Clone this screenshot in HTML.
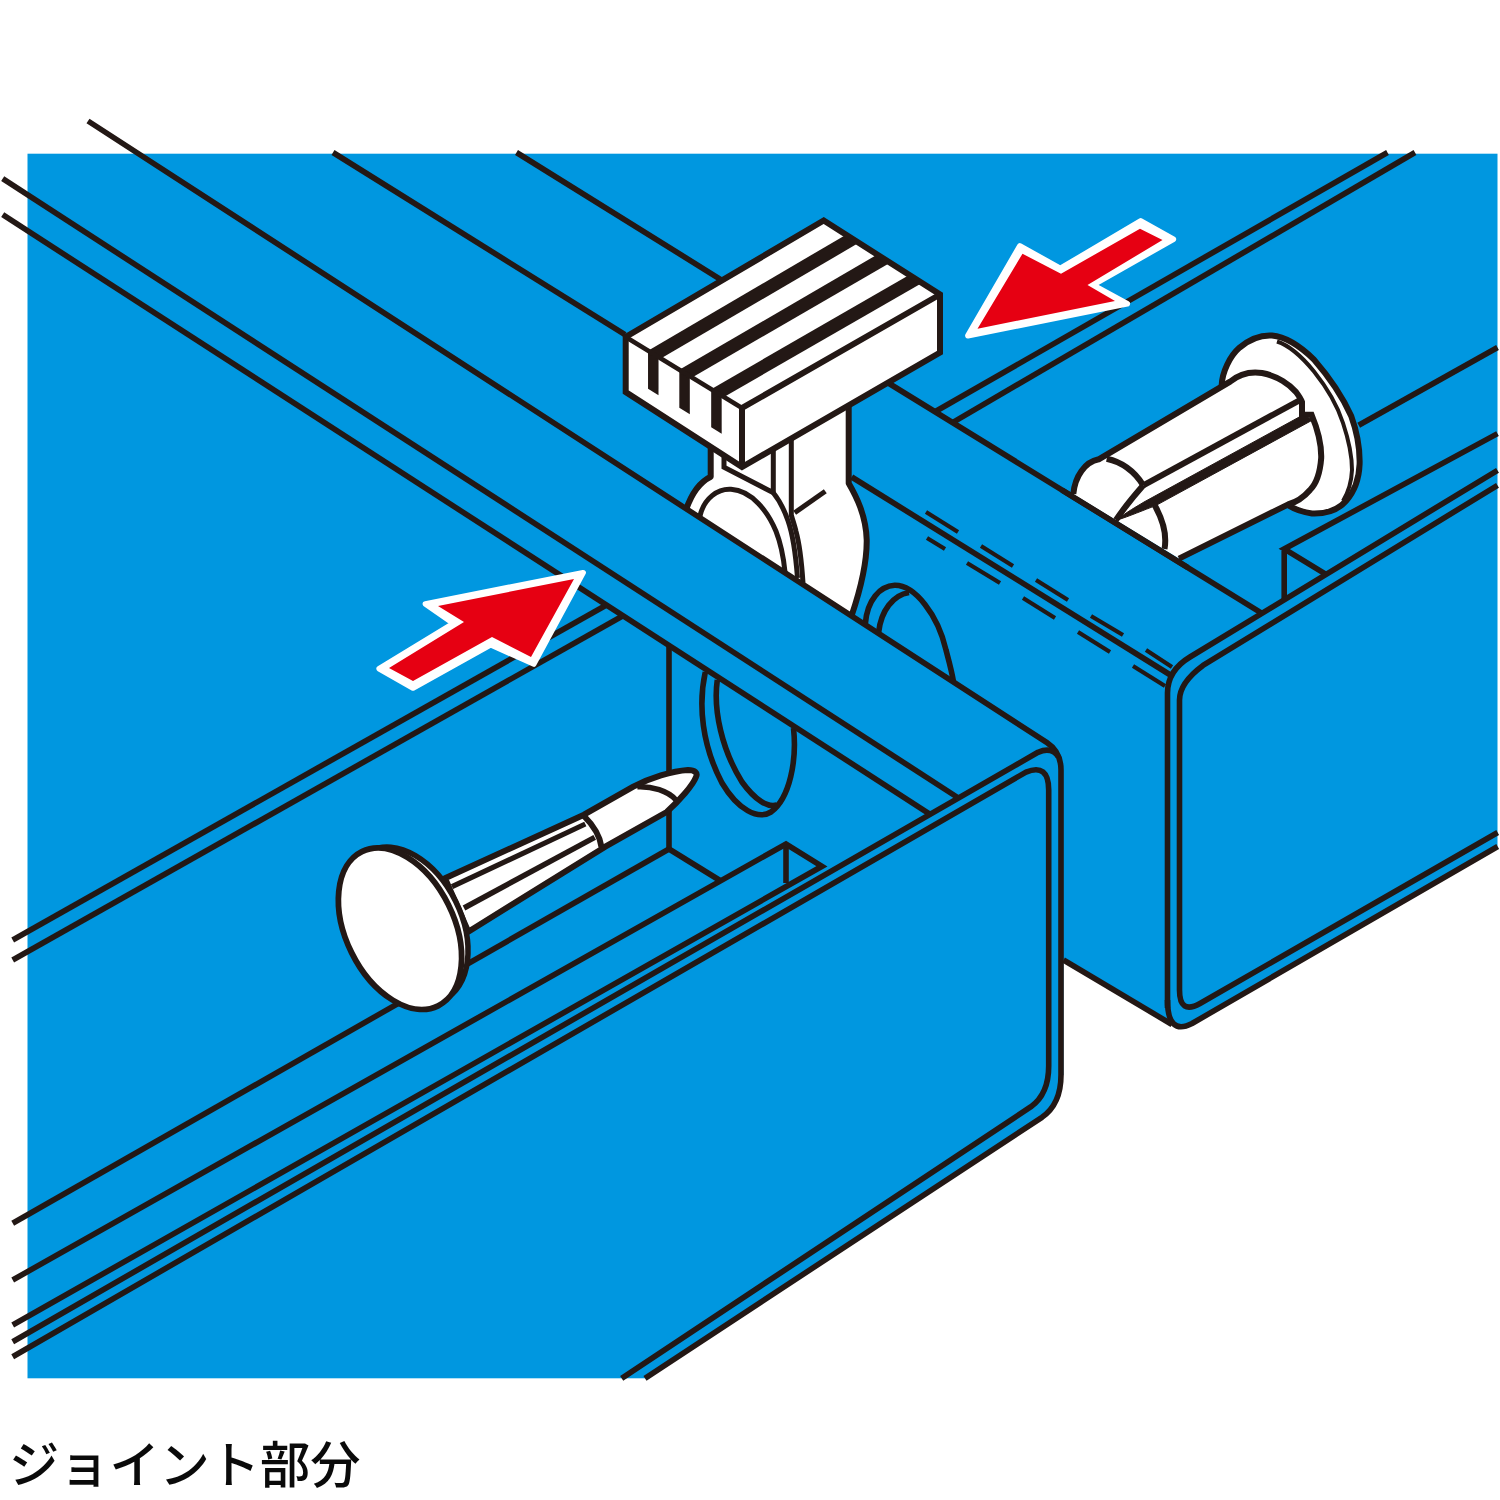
<!DOCTYPE html>
<html lang="ja">
<head>
<meta charset="utf-8">
<title>ジョイント部分</title>
<style>
html,body{margin:0;padding:0;background:#fff;}
body{width:1500px;height:1500px;position:relative;overflow:hidden;font-family:"Liberation Sans","Noto Sans CJK JP",sans-serif;}
svg{position:absolute;left:0;top:0;display:block;}
.cap{position:absolute;left:9px;top:1429.5px;font-size:50.2px;line-height:72px;color:#0a0a0a;font-weight:500;letter-spacing:0;white-space:nowrap;}
</style>
</head>
<body>
<svg width="1500" height="1500" viewBox="0 0 1500 1500">
<rect x="27.5" y="153.7" width="1470" height="1224.6" fill="#0097e0"/>
<path d="M645,1380 L645,1378.3 L1042,1117.3 Q1061,1104 1061,1075 L1063.5,1075 L1063.5,960 L1150,1011 L1168,1022 Q1178,1031 1192,1023.5 L1497.7,846.5 L1500,845 L1500,1380 Z" fill="#fff" stroke="none" stroke-width="0" stroke-linejoin="round" stroke-linecap="butt" />
<line x1="333" y1="152.5" x2="625" y2="334.7" stroke="#231815" stroke-width="5.6" stroke-linecap="butt"/>
<line x1="516.5" y1="152.5" x2="722" y2="280.3" stroke="#231815" stroke-width="5.6" stroke-linecap="butt"/>
<line x1="935" y1="411.77425" x2="1387.5" y2="152.5" stroke="#231815" stroke-width="5.6" stroke-linecap="butt"/>
<line x1="952.5" y1="422.5595" x2="1415" y2="152.5" stroke="#231815" stroke-width="5.6" stroke-linecap="butt"/>
<line x1="887.5" y1="382.5" x2="1262" y2="613.2629000000001" stroke="#231815" stroke-width="5.6" stroke-linecap="butt"/>
<line x1="1358.7" y1="425.3" x2="1497.5" y2="347.5" stroke="#231815" stroke-width="5.6" stroke-linecap="butt"/>
<path d="M1497.5,433.6 L1284.2,549 L1326,574.4" fill="none" stroke="#231815" stroke-width="5.6" stroke-linejoin="miter" stroke-linecap="butt" />
<line x1="1284.2" y1="551" x2="1284.2" y2="599.7875" stroke="#231815" stroke-width="5.6" stroke-linecap="butt"/>
<path d="M865.3,624 C867,600 880,586 894.7,585.3 C915,585 938,615 946,650 C950,665 952,672 953.5,682" fill="none" stroke="#231815" stroke-width="5.6" stroke-linejoin="round" stroke-linecap="butt" />
<path d="M878.7,632 C881,611 893,595 909,592.5" fill="none" stroke="#231815" stroke-width="5.6" stroke-linejoin="round" stroke-linecap="butt" />
<path d="M851.7,477 L1172,676" fill="none" stroke="#231815" stroke-width="5.6" stroke-linejoin="round" stroke-linecap="butt" />
<path d="M1167.5,1008 L1167.5,693 Q1167.5,670.5 1190,657.0 L1497.5,470.3" fill="none" stroke="#231815" stroke-width="5.6" stroke-linejoin="round" stroke-linecap="butt" />
<path d="M1167.5,1000 Q1167.5,1036 1192,1023.5 L1497.7,846.5" fill="none" stroke="#231815" stroke-width="5.6" stroke-linejoin="round" stroke-linecap="butt" />
<path d="M1497.5,485.3 L1203,665.4 Q1179.5,682.8 1179.5,700 L1179.5,990 Q1179.5,1015 1200,1003.5 L1497.7,832.5" fill="none" stroke="#231815" stroke-width="5.6" stroke-linejoin="round" stroke-linecap="butt" />
<line x1="1063.5" y1="960" x2="1172" y2="1024.5" stroke="#231815" stroke-width="5.6" stroke-linecap="butt"/>
<line x1="926" y1="512" x2="958" y2="532" stroke="#231815" stroke-width="4.2" stroke-linecap="butt"/>
<line x1="981" y1="546" x2="1013" y2="566" stroke="#231815" stroke-width="4.2" stroke-linecap="butt"/>
<line x1="1036" y1="580" x2="1068" y2="600" stroke="#231815" stroke-width="4.2" stroke-linecap="butt"/>
<line x1="1091" y1="616" x2="1123" y2="635" stroke="#231815" stroke-width="4.2" stroke-linecap="butt"/>
<line x1="1146" y1="650" x2="1172" y2="667" stroke="#231815" stroke-width="4.2" stroke-linecap="butt"/>
<line x1="927" y1="538" x2="945" y2="549" stroke="#231815" stroke-width="4.2" stroke-linecap="butt"/>
<line x1="967" y1="563" x2="1000" y2="583" stroke="#231815" stroke-width="4.2" stroke-linecap="butt"/>
<line x1="1023" y1="598" x2="1055" y2="618" stroke="#231815" stroke-width="4.2" stroke-linecap="butt"/>
<line x1="1078" y1="632" x2="1110" y2="652" stroke="#231815" stroke-width="4.2" stroke-linecap="butt"/>
<line x1="1133" y1="666" x2="1165" y2="686" stroke="#231815" stroke-width="4.2" stroke-linecap="butt"/>
<path d="M710.7,440 L710.7,476.7 C700,482 692,492 686,510 L851.5,616 C861,588 867,562 866.7,540 C866,515 856,496 848.7,483.3 L848.7,400 Z" fill="#fff" stroke="none" stroke-width="0" stroke-linejoin="round" stroke-linecap="butt" />
<path d="M710.7,440 L710.7,476.7 C700,482 692,492 686,510" fill="none" stroke="#231815" stroke-width="6.0" stroke-linejoin="round" stroke-linecap="butt" />
<path d="M851.5,616 C861,588 867,562 866.7,540 C866,515 856,496 848.7,483.3 L848.7,400" fill="none" stroke="#231815" stroke-width="6.0" stroke-linejoin="round" stroke-linecap="butt" />
<path d="M700,516 C704,498 718,488.5 731,489.3 C752,490.5 768,512 776,531.3 C781,544 783.5,557 785,572" fill="none" stroke="#231815" stroke-width="5.0" stroke-linejoin="round" stroke-linecap="butt" />
<path d="M724,452 L724,467.3 L773.3,492.7 L773.3,445" fill="none" stroke="#231815" stroke-width="5.0" stroke-linejoin="miter" stroke-linecap="butt" />
<path d="M773.3,492.7 C780,501 785,512 788,520.7 C792,532 795,545 797.5,578" fill="none" stroke="#231815" stroke-width="5.0" stroke-linejoin="round" stroke-linecap="butt" />
<path d="M791.3,436 L791.3,515.3 C794,524 795,527 796,531.3 C799,542 801,552 803,583" fill="none" stroke="#231815" stroke-width="5.0" stroke-linejoin="round" stroke-linecap="butt" />
<line x1="794.7" y1="512.7" x2="825.3" y2="491.3" stroke="#231815" stroke-width="5.0" stroke-linecap="butt"/>
<polygon points="625.7,337 742,408 742,467 625.7,392" fill="#fff" stroke="none" stroke-width="0" stroke-linejoin="miter"/>
<polygon points="742,408 940,294.5 940,352.5 742,467" fill="#fff" stroke="none" stroke-width="0" stroke-linejoin="miter"/>
<polygon points="823.75,220.5 940,294.5 742,408 625.7,337" fill="#fff" stroke="none" stroke-width="0" stroke-linejoin="miter"/>
<polygon points="648.0296000000001,350.632 660.8226000000001,358.442 858.8575,242.848 846.07,234.708" fill="#231815" stroke="none" stroke-width="0" stroke-linejoin="miter"/>
<polygon points="648.0296000000001,350.632 658.5296000000001,354.632 658.5296000000001,395.132 648.0296000000001,388.632" fill="#231815" stroke="none" stroke-width="0" stroke-linejoin="miter"/>
<polygon points="679.3143,369.731 692.1073,377.541 890.12875,262.754 877.34125,254.614" fill="#231815" stroke="none" stroke-width="0" stroke-linejoin="miter"/>
<polygon points="679.3143,369.731 689.8143,373.731 689.8143,414.231 679.3143,407.731" fill="#231815" stroke="none" stroke-width="0" stroke-linejoin="miter"/>
<polygon points="711.1805,389.185 723.9735000000001,396.995 921.98125,283.03 909.19375,274.89" fill="#231815" stroke="none" stroke-width="0" stroke-linejoin="miter"/>
<polygon points="711.1805,389.185 721.6805,393.185 721.6805,433.685 711.1805,427.185" fill="#231815" stroke="none" stroke-width="0" stroke-linejoin="miter"/>
<path d="M625.7,337 L742,408" fill="none" stroke="#231815" stroke-width="4.5" stroke-linejoin="round" stroke-linecap="butt" />
<path d="M823.75,220.5 L940,294.5 L940,352.5 L742,467 L625.7,392 L625.7,337 Z" fill="none" stroke="#231815" stroke-width="6" stroke-linejoin="miter" stroke-linecap="butt" />
<path d="M940,294.5 L742,408 L742,467" fill="none" stroke="#231815" stroke-width="6" stroke-linejoin="miter" stroke-linecap="butt" />
<path d="M1221.6,386 C1222,372 1230,356 1239.6,347.6 C1250,339 1262,335 1272,335.6 C1288,337 1302,348 1314,359.6 C1330,378 1344,400 1351.2,416 C1357,432 1360,448 1359.6,464 C1359,480 1354,492 1346,501 C1338,510 1326,514 1312,513.5 C1302,512 1294,509 1288,505 Z" fill="#fff" stroke="#231815" stroke-width="6.0" stroke-linejoin="round" stroke-linecap="butt" />
<path d="M1277,341.5 C1291,346 1303,358 1314,371.5 C1328,389 1338.5,409 1343,423 C1349,441 1352,458 1352,470 C1351.5,482 1349,491 1343,501" fill="none" stroke="#231815" stroke-width="4" stroke-linejoin="round" stroke-linecap="butt" />
<path d="M1073.3,494 C1075,476 1085,462 1098.7,459.3 L1230,381.7 C1240,373.5 1252,371.5 1262,373 C1278,376 1290,385 1296,392 C1299,396 1301,399 1302,402 L1302,414.8 L1311.6,414.8 C1318,430 1321.5,445 1321.2,458 C1320,474 1316,484 1310,490 C1304,497 1297,502 1288,504.5 L1179,558.6 Z" fill="#fff" stroke="none" stroke-width="0" stroke-linejoin="round" stroke-linecap="butt" />
<path d="M1073.3,494 C1075,476 1085,462 1098.7,459.3 L1230,381.7 C1240,373.5 1252,371.5 1262,373 C1278,376 1290,385 1296,392 C1299,396 1301,399 1302,402 L1302,414.8 L1311.6,414.8 C1318,430 1321.5,445 1321.2,458 C1320,474 1316,484 1310,490 C1304,497 1297,502 1288,504.5 L1179,558.6" fill="none" stroke="#231815" stroke-width="6.0" stroke-linejoin="miter" stroke-linecap="butt" />
<path d="M1106.7,458.7 C1122,462 1135,472 1143.3,485.3" fill="none" stroke="#231815" stroke-width="6.0" stroke-linejoin="round" stroke-linecap="butt" />
<line x1="1143.3" y1="485.3" x2="1299" y2="400.6" stroke="#231815" stroke-width="6.0" stroke-linecap="butt"/>
<path d="M1143.3,485.3 C1133,497 1124,508 1116,520" fill="none" stroke="#231815" stroke-width="6.0" stroke-linejoin="round" stroke-linecap="butt" />
<path d="M1116,520.5 C1128,511 1136,507 1144,502 L1302,415.5 L1313.5,419.5 L1155.7,505.6 C1144,510 1130,516 1116,520.5 Z" fill="#231815" stroke="#231815" stroke-width="1" stroke-linejoin="round" stroke-linecap="butt" />
<path d="M1154.7,505.3 C1163,520 1167,535 1164.5,549" fill="none" stroke="#231815" stroke-width="6.0" stroke-linejoin="round" stroke-linecap="butt" />
<line x1="1062" y1="490.04435" x2="1188" y2="567.6981499999999" stroke="#231815" stroke-width="5.6" stroke-linecap="butt"/>
<path d="M705.3,672 C698,705 702,745 722,783 C738,810 758,820 771,812 C790,798 797,760 793.5,728" fill="none" stroke="#231815" stroke-width="5.6" stroke-linejoin="round" stroke-linecap="butt" />
<path d="M717.3,680 C713,710 722,750 742,782 C755,800 768,808 777,805" fill="none" stroke="#231815" stroke-width="5.6" stroke-linejoin="round" stroke-linecap="butt" />
<line x1="12.7" y1="940" x2="606.5" y2="605" stroke="#231815" stroke-width="5.6" stroke-linecap="butt"/>
<line x1="12.7" y1="960" x2="623" y2="615.8" stroke="#231815" stroke-width="5.6" stroke-linecap="butt"/>
<line x1="669" y1="645.4629499999999" x2="669" y2="849" stroke="#231815" stroke-width="5.6" stroke-linecap="butt"/>
<line x1="12.7" y1="1223.3" x2="669" y2="849" stroke="#231815" stroke-width="5.6" stroke-linecap="butt"/>
<line x1="669" y1="849" x2="720" y2="880.5" stroke="#231815" stroke-width="5.6" stroke-linecap="butt"/>
<line x1="786" y1="846" x2="786" y2="883" stroke="#231815" stroke-width="5.6" stroke-linecap="butt"/>
<path d="M12.7,1280 L786,844 L822,866.3 L12.7,1325" fill="none" stroke="#231815" stroke-width="5.6" stroke-linejoin="miter" stroke-linecap="butt" />
<line x1="2.7" y1="178.7" x2="958.4191920843896" y2="798.0060364706844" stroke="#231815" stroke-width="5.6" stroke-linecap="butt"/>
<line x1="2.7" y1="214.7" x2="930.1185361061077" y2="814.2760835925985" stroke="#231815" stroke-width="5.6" stroke-linecap="butt"/>
<path d="M88,121 L1047,742.7 Q1061,752 1061,770 L1061,1075 Q1061,1104 1042,1117.3 L645,1378.3" fill="none" stroke="#231815" stroke-width="5.6" stroke-linejoin="round" stroke-linecap="butt" />
<path d="M12.7,1341.7 L1038,752.3 Q1052,746.5 1058.5,757" fill="none" stroke="#231815" stroke-width="5.6" stroke-linejoin="round" stroke-linecap="butt" />
<path d="M12.7,1356.7 L1026,772.1 Q1048.7,763 1048.7,790 L1048.7,1066 Q1048.7,1094 1031,1106.7 L621.7,1378.3" fill="none" stroke="#231815" stroke-width="5.6" stroke-linejoin="round" stroke-linecap="butt" />
<path d="M445,878.3 L584,814.7 L633.3,786.7 C650,778 672,771 688,770 C695,770 698,773 696,777 C693,785 680,800 666.7,812 L605.3,846.7 L468.3,931.7 Z" fill="#fff" stroke="#231815" stroke-width="6.0" stroke-linejoin="round" stroke-linecap="butt" />
<path d="M637.3,786.7 C652,786 668,791 676,800" fill="none" stroke="#231815" stroke-width="5.5" stroke-linejoin="round" stroke-linecap="butt" />
<path d="M584,816 C594,826 600,836 601.5,847" fill="none" stroke="#231815" stroke-width="6.0" stroke-linejoin="round" stroke-linecap="butt" />
<line x1="452" y1="886.7" x2="585.3" y2="824" stroke="#231815" stroke-width="5.2" stroke-linecap="butt"/>
<line x1="464" y1="908" x2="594.7" y2="837.3" stroke="#231815" stroke-width="5.5" stroke-linecap="butt"/>
<ellipse cx="407.2" cy="925.2" rx="83" ry="54" transform="rotate(63.7 407.2 925.2)" fill="#fff" stroke="#231815" stroke-width="5.5"/>
<ellipse cx="400" cy="928.7" rx="86" ry="54" transform="rotate(63.7 400 928.7)" fill="#fff" stroke="#231815" stroke-width="5.8"/>
<polygon points="583.0999999999999,572.7 425.4,603.9 453.49999999999994,623.4 379.2,668.6999999999999 412.99999999999994,688.0 490.6,644.6999999999999 533.8,664.0" fill="#fff" stroke="#fff" stroke-width="5.6" stroke-linejoin="round"/>
<polygon points="574,579 438,606 464,622 389,668 413,681 492,637 531,657" fill="#e60012" stroke="none" stroke-width="0" stroke-linejoin="miter"/>
<polygon points="967.875,335.75 1019.875,245.875 1060.3,268.5 1140.6999999999998,220.875 1173.35,239.29999999999998 1092.75,285.0 1127.25,303.8" fill="#fff" stroke="#fff" stroke-width="5.6" stroke-linejoin="round"/>
<polygon points="977.5,328.75 1022.5,253.75 1061,273.75 1140,228.75 1162.5,240 1087.5,285 1115,301" fill="#e60012" stroke="none" stroke-width="0" stroke-linejoin="miter"/>
</svg>
<div class="cap">ジョイント部分</div>
</body>
</html>
